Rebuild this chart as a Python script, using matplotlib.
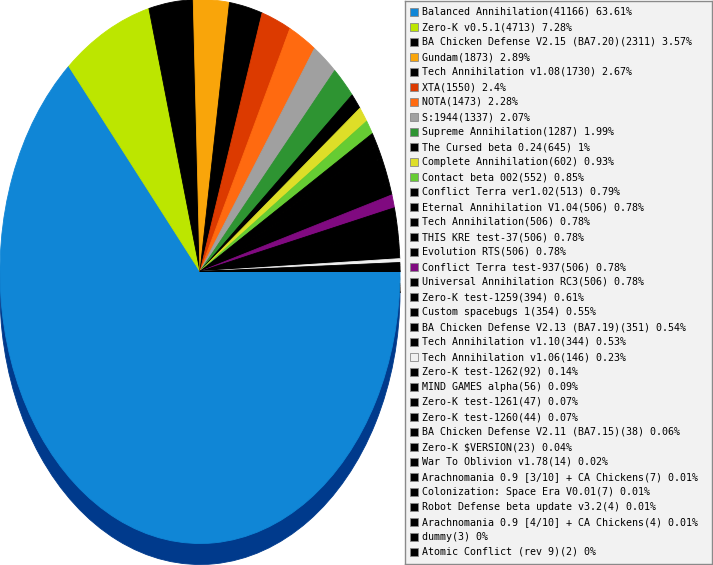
import matplotlib
matplotlib.use("Agg")
import matplotlib.pyplot as plt
from matplotlib.patches import Rectangle
from matplotlib.colors import to_rgb

names = [
    "Balanced Annihilation", "Zero-K v0.5.1", "BA Chicken Defense V2.15 (BA7.20)",
    "Gundam", "Tech Annihilation v1.08", "XTA", "NOTA", "S:1944",
    "Supreme Annihilation", "The Cursed beta 0.24", "Complete Annihilation",
    "Contact beta 002", "Conflict Terra ver1.02", "Eternal Annihilation V1.04",
    "Tech Annihilation", "THIS KRE test-37", "Evolution RTS",
    "Conflict Terra test-937", "Universal Annihilation RC3", "Zero-K test-1259",
    "Custom spacebugs 1", "BA Chicken Defense V2.13 (BA7.19)",
    "Tech Annihilation v1.10", "Tech Annihilation v1.06", "Zero-K test-1262",
    "MIND GAMES alpha", "Zero-K test-1261", "Zero-K test-1260",
    "BA Chicken Defense V2.11 (BA7.15)", "Zero-K $VERSION",
    "War To Oblivion v1.78", "Arachnomania 0.9 [3/10] + CA Chickens",
    "Colonization: Space Era V0.01", "Robot Defense beta update v3.2",
    "Arachnomania 0.9 [4/10] + CA Chickens", "dummy", "Atomic Conflict (rev 9)",
]
counts = [
    41166, 4713, 2311, 1873, 1730, 1550, 1473, 1337, 1287, 645, 602, 552, 513,
    506, 506, 506, 506, 506, 506, 394, 354, 351, 344, 146, 92, 56, 47, 44, 38,
    23, 14, 7, 7, 4, 4, 3, 2,
]
colors = [
    "#1086d6", "#bce600", "#000000", "#f9a50a", "#000000", "#dc3a00",
    "#ff6a10", "#a0a0a0", "#2e9432", "#000000", "#dede28", "#66cc33",
    "#000000", "#000000", "#000000", "#000000", "#000000", "#800a80",
    "#000000", "#000000", "#000000", "#000000", "#000000", "#f0f0f0",
    "#000000", "#000000", "#000000", "#000000", "#000000", "#000000",
    "#000000", "#000000", "#000000", "#000000", "#000000", "#000000",
    "#000000",
]

total = sum(counts)
W, H = 713, 565
fig = plt.figure(figsize=(W / 100, H / 100), dpi=100)

# pie: ellipse rx=200px, ry=272px, centre (200, 271.5) from top
ry = 272.0
ax = fig.add_axes([0, 0, 400 / W, 1])
shift = 21 / ry
dark = ["#003a8c"] + [tuple(c * 0.5 for c in to_rgb(col)) for col in colors[1:]]
rim, _ = ax.pie(counts, colors=dark, startangle=0, counterclock=False,
                center=(0, -shift))
top, _ = ax.pie(counts, colors=colors, startangle=0, counterclock=False)
# paint the edges in the face colour so no light seams show between slices
for w in list(rim) + list(top):
    w.set_edgecolor(w.get_facecolor())
    w.set_linewidth(0.6)
ax.set_aspect("auto")
ax.set_xlim(-1, 1)
ax.set_ylim(-(H - 271.5) / ry, 271.5 / ry)
ax.axis("off")

# legend box
lx0, lx1, ly0, ly1 = 405, 712, 1, 564
lg = fig.add_axes([lx0 / W, (H - ly1) / H, (lx1 - lx0) / W, (ly1 - ly0) / H])
lg.set_facecolor("#f2f2f2")
for s in lg.spines.values():
    s.set_color("#8a8a8a")
    s.set_linewidth(1)
lg.set_xlim(lx0, lx1)
lg.set_ylim(ly1, ly0)
lg.set_xticks([])
lg.set_yticks([])

for i, (n, c, col) in enumerate(zip(names, counts, colors)):
    y = 11.5 + 15 * i
    lg.add_patch(Rectangle((410.5, y - 4), 8, 8, facecolor=col,
                           edgecolor="#888888", linewidth=0.6))
    pct = f"{round(c / total * 100, 2):g}"
    lg.text(422.5, y + 0.5, f"{n}({c}) {pct}%", fontsize=7.2,
            family="DejaVu Sans Mono", va="center", ha="left", color="black")

fig.savefig("out.png", dpi=100)
